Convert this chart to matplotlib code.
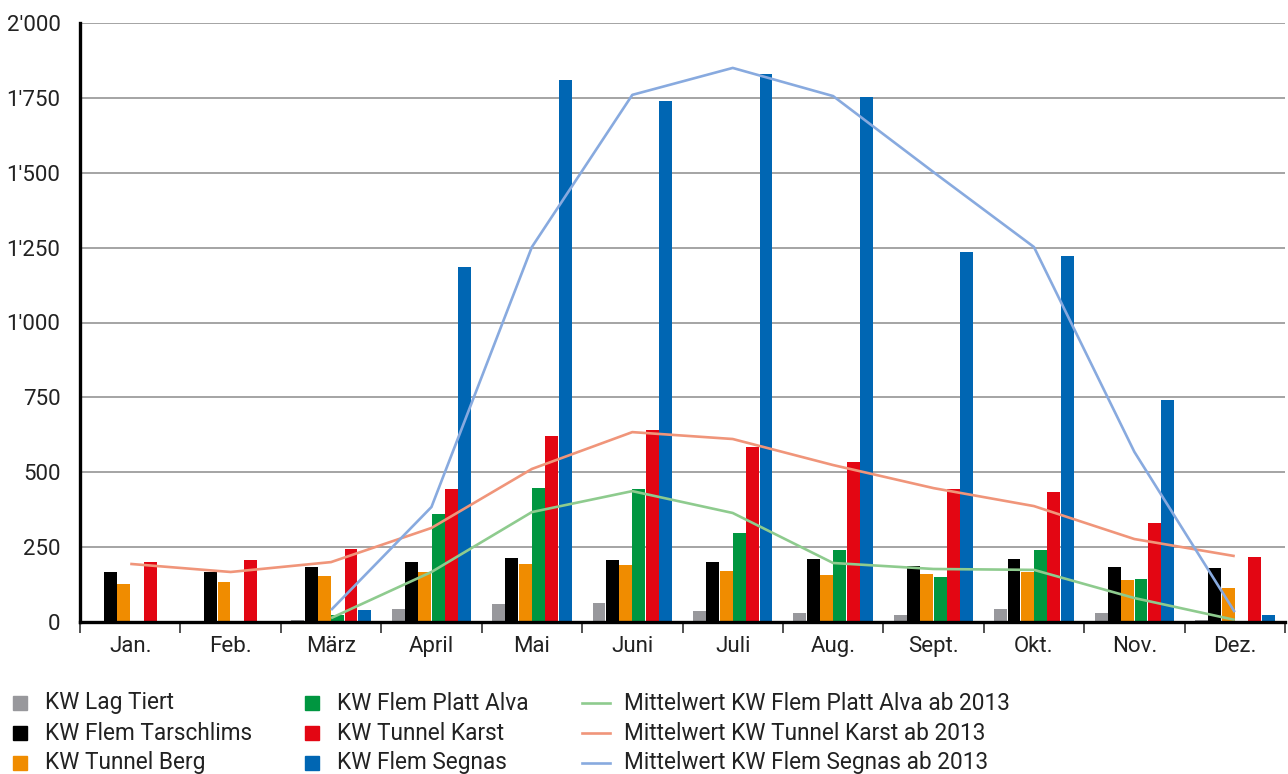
import numpy as np
import matplotlib.pyplot as plt
from matplotlib.lines import Line2D
from matplotlib.patches import Rectangle
from matplotlib.ticker import FuncFormatter

plt.rcParams["font.family"] = ["Roboto", "DejaVu Sans"]

months = ["Jan.", "Feb.", "März", "April", "Mai", "Juni", "Juli", "Aug.",
          "Sept.", "Okt.", "Nov.", "Dez."]

# monthly production per plant
lag_tiert = [3, 2, 7, 43, 60, 63, 37, 30, 23, 43, 30, 7]
tarschlims = [168, 168, 184, 200, 214, 207, 200, 210, 187, 210, 184, 180]
tunnel_berg = [127, 134, 154, 167, 194, 190, 170, 157, 160, 167, 140, 114]
platt_alva = [2, 2, 23, 360, 447, 444, 297, 240, 150, 240, 144, 3]
tunnel_karst = [200, 207, 244, 444, 621, 641, 584, 534, 444, 434, 330, 217]
segnas = [2, 2, 40, 1185, 1810, 1740, 1830, 1753, 1235, 1222, 741, 23]

# long-term means (None = no value)
mean_alva = [None, None, 13, 167, 367, 437, 364, 197, 177, 174, 80, 7]
mean_karst = [194, 167, 200, 314, 511, 634, 611, 524, 447, 387, 277, 220]
mean_segnas = [None, None, 40, 384, 1252, 1760, 1850, 1756, 1502, 1252, 568, 33]

bar_series = [
    ("KW Lag Tiert", lag_tiert, "#98989c"),
    ("KW Flem Tarschlims", tarschlims, "#000000"),
    ("KW Tunnel Berg", tunnel_berg, "#f08c00"),
    ("KW Flem Platt Alva", platt_alva, "#009640"),
    ("KW Tunnel Karst", tunnel_karst, "#e30613"),
    ("KW Flem Segnas", segnas, "#0066b3"),
]
line_series = [
    ("Mittelwert KW Flem Platt Alva ab 2013", mean_alva, "#8ecb8e"),
    ("Mittelwert KW Tunnel Karst ab 2013", mean_karst, "#f0957a"),
    ("Mittelwert KW Flem Segnas ab 2013", mean_segnas, "#88aadf"),
]

txt = "#222222"

fig = plt.figure(figsize=(12.88, 7.74), dpi=100)
ax = fig.add_axes([80 / 1288, 1 - 622 / 774, 1205 / 1288, 599 / 774])

x = np.arange(len(months))
step = 0.1325
for k, (name, vals, col) in enumerate(bar_series):
    ax.bar(x + (k - 2.5) * step, vals, width=step * 0.97, color=col, zorder=2)

for name, vals, col in line_series:
    y = np.array([np.nan if v is None else v for v in vals], dtype=float)
    ax.plot(x, y, color=col, lw=1.9, zorder=3, solid_capstyle="butt")

ax.set_xlim(-0.5, 11.5)
ax.set_ylim(0, 2000)
ax.set_yticks(np.arange(0, 2001, 250))
ax.yaxis.set_major_formatter(FuncFormatter(lambda v, p: f"{int(v):,}".replace(",", "'")))
ax.grid(axis="y", color="#8c8c8c", lw=1.1, zorder=0)
ax.set_axisbelow(True)

ax.set_xticks(x)
ax.set_xticklabels(months)
ax.set_xticks(np.arange(-0.5, 12, 1), minor=True)
ax.tick_params(axis="x", which="major", length=0, pad=10, labelsize=16, colors=txt)
ax.tick_params(axis="x", which="minor", length=8, width=1.1, direction="out", color=txt)
ax.tick_params(axis="y", length=0, pad=14, labelsize=16, labelcolor=txt)

for s in ["top", "right"]:
    ax.spines[s].set_visible(False)
ax.spines["left"].set_linewidth(2.4)
ax.spines["bottom"].set_linewidth(2.4)
ax.spines["left"].set_zorder(5)
ax.spines["bottom"].set_zorder(5)

# legend, built by hand in three columns
W, H = 1288, 774
rows_y = [703, 733, 763]
col_x = [13, 305]
for i, (name, vals, col) in enumerate(bar_series):
    cx = col_x[i // 3]
    cy = rows_y[i % 3]
    fig.patches.append(Rectangle((cx / W, 1 - (cy + 7) / H), 14 / W, 14 / H,
                                 transform=fig.transFigure, color=col))
    fig.text((cx + 32) / W, 1 - cy / H, name, fontsize=16.3, va="center",
             ha="left", color=txt)
for i, (name, vals, col) in enumerate(line_series):
    cy = rows_y[i]
    fig.lines.append(Line2D([582 / W, 610 / W], [1 - cy / H, 1 - cy / H],
                            transform=fig.transFigure, color=col, lw=1.9))
    fig.text(624 / W, 1 - cy / H, name, fontsize=16.3, va="center", ha="left",
             color=txt)

fig.savefig("out.png", dpi=100)
